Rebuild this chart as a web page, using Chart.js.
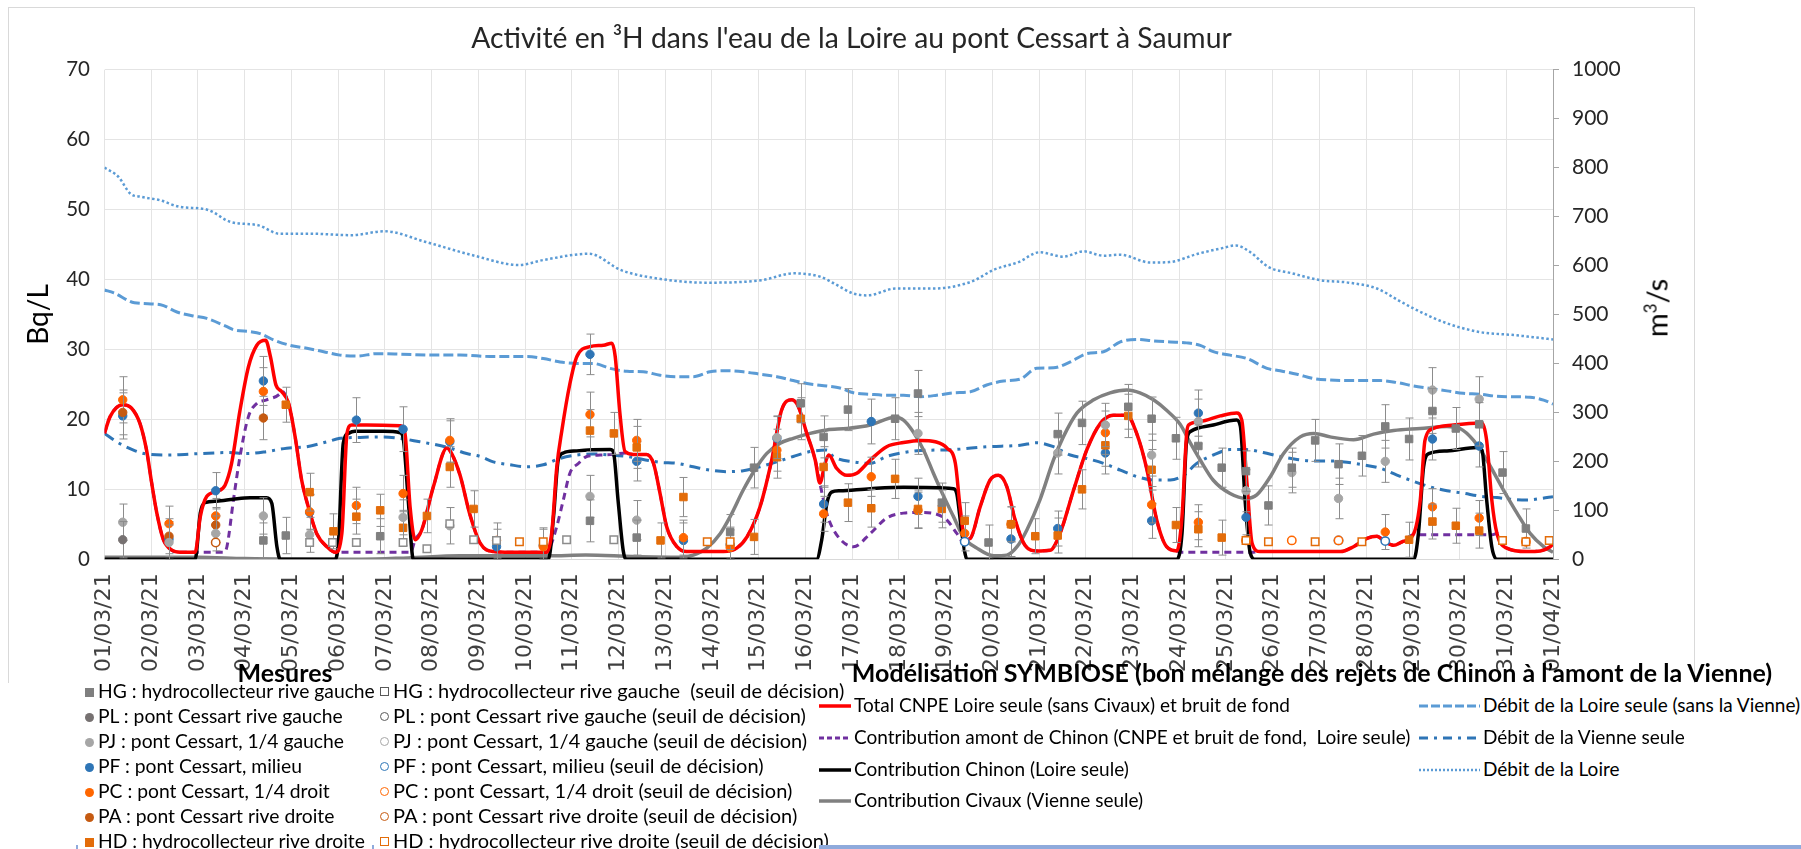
<!DOCTYPE html>
<html lang="fr">
<head>
<meta charset="UTF-8" />
<title>Activité en 3H - Loire au pont Cessart</title>
<script src="https://cdn.jsdelivr.net/npm/chart.js"></script>
<style>
  html, body { margin: 0; padding: 0; background: #fff; }
  body {
    width: 1801px; height: 849px; position: relative; overflow: hidden;
    font-family: Lato, "Open Sans", sans-serif;
    color: #000;
  }
  .frame {
    position: absolute; left: 8px; top: 7px; width: 1687px; height: 676px;
    border: 1px solid #d9d9d9; border-bottom: none; box-sizing: border-box;
  }
  #wrap { position: absolute; left: 8px; top: 7px; width: 1687px; height: 676px; }
  .ytitle-right {
    position: absolute; left: 1656px; top: 308px; font-size: 29px; color: #000;
    transform: translate(-50%, -50%) rotate(-90deg); white-space: nowrap;
  }
  .ytitle-right sup { font-size: 17px; }
  .leg-title { position: absolute; font-weight: bold; font-size: 25px; white-space: nowrap; transform: translate(-50%, -50%); }
  .row { position: absolute; height: 25px; line-height: 25px; font-size: 19px; white-space: nowrap; }
  .mes1 .row { font-size: 19.3px; }
  .mes2 .row { font-size: 20px; }
  .mk { display: inline-block; width: 9px; height: 9px; box-sizing: border-box; vertical-align: middle; margin-right: 4px; position: relative; top: -1px; }
  .ci { border-radius: 50%; }
  .row svg { vertical-align: middle; margin-right: 3px; position: relative; top: -1px; }
  .bluebar { position: absolute; left: 819px; top: 845px; width: 982px; height: 4px; background: #8faadc; }
  .bluetick { position: absolute; top: 845px; width: 2px; height: 4px; background: #8faadc; }
</style>
</head>
<body>
<div class="frame"></div>
<div id="wrap"><canvas id="tritium"></canvas></div>
<div class="ytitle-right">m<sup>3</sup>/s</div>

<!-- Mesures -->
<div class="leg-title" style="left:285px; top:672px;">Mesures</div>
<div class="mes1">
<div class="row" style="left:85px; top:678px;"><span class="mk" style="background:#7f7f7f"></span>HG : hydrocollecteur rive gauche</div>
<div class="row" style="left:85px; top:703px;"><span class="mk ci" style="background:#767171"></span>PL : pont Cessart rive gauche</div>
<div class="row" style="left:85px; top:728px;"><span class="mk ci" style="background:#a6a6a6"></span>PJ : pont Cessart, 1/4 gauche</div>
<div class="row" style="left:85px; top:753px;"><span class="mk ci" style="background:#2e75b6"></span>PF : pont Cessart, milieu</div>
<div class="row" style="left:85px; top:778px;"><span class="mk ci" style="background:#ff6600"></span>PC : pont Cessart, 1/4 droit</div>
<div class="row" style="left:85px; top:803px;"><span class="mk ci" style="background:#c55a11"></span>PA : pont Cessart rive droite</div>
<div class="row" style="left:85px; top:828px;"><span class="mk" style="background:#e36c09"></span>HD : hydrocollecteur rive droite</div>
</div>
<div class="mes2">
<div class="row" style="left:380px; top:678px;"><span class="mk" style="border:1.5px solid #595959"></span>HG : hydrocollecteur rive gauche&nbsp; (seuil de décision)</div>
<div class="row" style="left:380px; top:703px;"><span class="mk ci" style="border:1.5px solid #595959"></span>PL : pont Cessart rive gauche (seuil de décision)</div>
<div class="row" style="left:380px; top:728px;"><span class="mk ci" style="border:1.5px solid #a6a6a6"></span>PJ : pont Cessart, 1/4 gauche (seuil de décision)</div>
<div class="row" style="left:380px; top:753px;"><span class="mk ci" style="border:1.5px solid #2e75b6"></span>PF : pont Cessart, milieu (seuil de décision)</div>
<div class="row" style="left:380px; top:778px;"><span class="mk ci" style="border:1.5px solid #ff6600"></span>PC : pont Cessart, 1/4 droit (seuil de décision)</div>
<div class="row" style="left:380px; top:803px;"><span class="mk ci" style="border:1.5px solid #c55a11"></span>PA : pont Cessart rive droite (seuil de décision)</div>
<div class="row" style="left:380px; top:828px;"><span class="mk" style="border:1.5px solid #e36c09"></span>HD : hydrocollecteur rive droite (seuil de décision)</div>
</div>
<div class="bluetick" style="left:76px;"></div>
<div class="bluetick" style="left:372px;"></div>

<!-- Modelisation -->
<div class="leg-title" style="left:1312px; top:672px;">Modélisation SYMBIOSE (bon mélange des rejets de Chinon à l’amont de la Vienne)</div>
<div class="row" style="left:819px; top:692px;"><svg width="32" height="6"><line x1="0" y1="3" x2="32" y2="3" stroke="#ff0000" stroke-width="3.5"/></svg>Total CNPE Loire seule (sans Civaux) et bruit de fond</div>
<div class="row" style="left:819px; top:724px;"><svg width="32" height="6"><line x1="0" y1="3" x2="32" y2="3" stroke="#7030a0" stroke-width="3" stroke-dasharray="5 3"/></svg>Contribution amont de Chinon (CNPE et bruit de fond,&nbsp; Loire seule)</div>
<div class="row" style="left:819px; top:756px;"><svg width="32" height="6"><line x1="0" y1="3" x2="32" y2="3" stroke="#000" stroke-width="3.5"/></svg>Contribution Chinon (Loire seule)</div>
<div class="row" style="left:819px; top:787px;"><svg width="32" height="6"><line x1="0" y1="3" x2="32" y2="3" stroke="#808080" stroke-width="3.5"/></svg>Contribution Civaux (Vienne seule)</div>
<div class="row" style="left:1419px; top:692px;"><svg width="61" height="6"><line x1="0" y1="3" x2="61" y2="3" stroke="#5b9bd5" stroke-width="3" stroke-dasharray="9 3"/></svg>Débit de la Loire seule (sans la Vienne)</div>
<div class="row" style="left:1419px; top:724px;"><svg width="61" height="6"><line x1="0" y1="3" x2="61" y2="3" stroke="#2e75b6" stroke-width="3" stroke-dasharray="9 6 3 6"/></svg>Débit de la Vienne seule</div>
<div class="row" style="left:1419px; top:756px;"><svg width="61" height="6"><line x1="0" y1="3" x2="61" y2="3" stroke="#5b9bd5" stroke-width="2.5" stroke-dasharray="2 2"/></svg>Débit de la Loire</div>
<div class="bluebar"></div>

<script>
  // x axis: day 0 = 01/03/21 ... day 31 = 01/04/21
  const dayLabels = [
    '01/03/21', '02/03/21', '03/03/21', '04/03/21', '05/03/21', '06/03/21', '07/03/21', '08/03/21',
    '09/03/21', '10/03/21', '11/03/21', '12/03/21', '13/03/21', '14/03/21', '15/03/21', '16/03/21',
    '17/03/21', '18/03/21', '19/03/21', '20/03/21', '21/03/21', '22/03/21', '23/03/21', '24/03/21',
    '25/03/21', '26/03/21', '27/03/21', '28/03/21', '29/03/21', '30/03/21', '31/03/21', '01/04/21'
  ];

  // --- SYMBIOSE model lines, Bq/L : [day, value]
  const totalLoire = [
    [0,18.0],[0.12,20.4],[0.39,22.1],[0.58,21.6],[0.76,19.4],[0.9,15.6],[1.01,10.9],[1.12,6.6],[1.26,2.8],[1.44,1.3],[1.62,1.0],[1.94,1.0],
    [2.05,6.1],[2.19,9.0],[2.4,9.7],[2.58,10.6],[2.72,13.7],[2.9,21.3],[3.08,27.5],[3.26,30.6],[3.45,31.3],[3.55,29.0],[3.67,24.9],[3.79,24.0],
    [3.94,22.3],[4.08,17.5],[4.22,11.3],[4.37,7.3],[4.54,3.7],[4.76,1.8],[4.94,1.0],[5.08,3.7],[5.19,18.0],[5.29,19.2],[5.61,19.2],[6.33,19.1],
    [6.43,18.0],[6.54,7.5],[6.65,2.8],[6.79,4.2],[7.04,10.4],[7.33,15.9],[7.43,15.1],[7.61,12.0],[7.82,6.4],[8.04,2.3],[8.32,1.1],[8.68,1.0],
    [9.46,1.0],[9.57,3.7],[9.68,13.2],[9.79,18.5],[9.96,25.1],[10.11,29.0],[10.39,30.4],[10.68,30.6],[10.86,30.9],[10.93,29.0],[11.03,20.9],
    [11.14,15.4],[11.32,15.0],[11.6,15.0],[11.75,13.7],[11.89,9.4],[12.03,4.7],[12.25,1.8],[12.46,1.1],[13.25,1.1],[13.53,1.6],[13.75,3.2],
    [14.03,7.5],[14.28,14.2],[14.49,21.3],[14.71,22.8],[14.85,21.8],[15.03,18.0],[15.21,14.2],[15.31,10.9],[15.42,13.7],[15.5,14.9],[15.67,13.0],
    [15.89,12.0],[16.1,12.3],[16.39,14.2],[16.74,16.1],[17.1,16.7],[17.46,17.0],[17.78,16.8],[18.03,15.9],[18.21,13.7],[18.31,7.5],[18.42,2.8],
    [18.53,3.0],[18.74,7.5],[18.95,11.3],[19.13,12.0],[19.31,10.4],[19.49,5.6],[19.7,2.0],[19.95,1.2],[20.24,1.3],[20.45,3.7],[20.74,9.9],
    [21.02,15.6],[21.31,19.4],[21.59,20.6],[21.88,20.6],[22.09,18.0],[22.31,12.8],[22.52,5.6],[22.73,1.8],[22.95,1.2],[23.06,6.1],[23.16,18.0],
    [23.2,19.2],[23.45,19.7],[23.88,20.5],[24.23,20.9],[24.34,19.9],[24.45,10.9],[24.56,2.3],[24.73,1.1],[26.45,1.1],[26.73,1.8],[27.02,3.0],
    [27.23,3.3],[27.41,2.5],[27.59,2.0],[27.77,2.5],[28.02,3.7],[28.16,8.5],[28.26,17.0],[28.44,18.7],[28.87,19.2],[29.48,19.5],[29.58,17.0],
    [29.69,8.5],[29.8,3.7],[30.01,1.6],[30.44,1.1],[30.73,1.2],[30.94,1.8],[31.0,2.2]
  ];
  const amontChinon = [
    [0,18.0],[0.12,20.4],[0.39,22.1],[0.58,21.6],[0.76,19.4],[0.9,15.6],[1.01,10.9],[1.12,6.6],[1.26,2.8],[1.44,1.3],[1.62,1.0],[1.94,1.0],
    [2.55,1.0],[2.62,1.8],[2.76,8.5],[2.9,14.7],[3.08,20.4],[3.26,22.3],[3.47,22.8],[3.76,23.7],[3.79,24.0],[3.94,22.3],[4.08,17.5],[4.22,11.3],
    [4.37,7.3],[4.54,3.7],[4.76,1.8],[4.94,1.0],[6.55,1.0],[6.65,2.8],[6.79,4.2],[7.04,10.4],[7.33,15.9],[7.43,15.1],[7.61,12.0],[7.82,6.4],
    [8.04,2.3],[8.32,1.1],[8.68,1.0],[9.46,1.0],[9.54,1.8],[9.68,4.7],[9.82,8.5],[9.96,12.3],[10.14,13.7],[10.32,14.7],[10.61,14.9],[10.89,15.0],
    [11.14,15.2],[11.32,15.0],[11.6,15.0],[11.75,13.7],[11.89,9.4],[12.03,4.7],[12.25,1.8],[12.46,1.1],[13.25,1.1],[13.53,1.6],[13.75,3.2],
    [14.03,7.5],[14.28,14.2],[14.49,21.3],[14.71,22.8],[14.85,21.8],[15.03,18.0],[15.21,14.2],[15.31,10.9],[15.46,6.5],[15.67,3.5],[16.03,1.8],
    [16.39,3.7],[16.74,5.9],[17.1,6.6],[17.46,6.7],[17.78,6.5],[18.03,5.6],[18.24,3.7],[18.38,2.5],[18.42,2.8],[18.53,3.0],[18.74,7.5],
    [18.95,11.3],[19.13,12.0],[19.31,10.4],[19.49,5.6],[19.7,2.0],[19.95,1.2],[20.24,1.3],[20.45,3.7],[20.74,9.9],[21.02,15.6],[21.31,19.4],
    [21.59,20.6],[21.88,20.6],[22.09,18.0],[22.31,12.8],[22.52,5.6],[22.73,1.8],[22.95,1.2],[23.02,1.0],[24.56,1.0],[24.73,1.1],[26.45,1.1],
    [26.73,1.8],[27.02,3.0],[27.23,3.3],[27.41,2.5],[27.59,2.0],[27.77,2.5],[28.02,3.5],[29.7,3.5],[29.8,3.7],[30.01,1.6],[30.44,1.1],
    [30.73,1.2],[30.94,1.8],[31.0,2.2]
  ];
  const chinon = [
    [0,0],[1.94,0],[2.05,6.6],[2.15,8.1],[2.4,8.3],[2.76,8.6],[3.12,8.8],[3.47,8.8],[3.58,8.0],[3.69,1.8],[3.76,0],[4.94,0],[5.01,2.8],
    [5.11,16.6],[5.22,18.0],[5.36,18.3],[5.97,18.3],[6.33,18.1],[6.4,17.0],[6.5,8.5],[6.61,0],[9.5,0],[9.61,6.1],[9.71,14.2],[9.82,15.2],
    [10.11,15.5],[10.82,15.7],[10.89,15.4],[10.99,8.5],[11.1,1.3],[11.16,0],[15.24,0],[15.35,2.8],[15.46,8.0],[15.56,9.6],[15.74,9.8],
    [16.39,10.1],[17.1,10.3],[18.17,10.1],[18.24,9.4],[18.35,3.7],[18.46,0],[22.95,0],[23.06,3.7],[23.16,17.0],[23.25,18.3],[23.73,19.2],
    [24.23,19.9],[24.31,19.0],[24.41,8.5],[24.52,0.9],[24.63,0],[28.02,0],[28.12,3.7],[28.23,13.2],[28.34,15.1],[28.73,15.5],[29.37,16.0],
    [29.48,15.6],[29.58,8.5],[29.69,1.8],[29.8,0],[31,0]
  ];
  const civaux = [
    [0,0.3],[2.0,0.3],[3.0,0.1],[5.5,0.0],[6.5,0.2],[7.6,0.5],[9.5,0.5],[10.3,0.6],[11.3,0.4],[12.3,0.3],[12.6,0.6],[12.89,1.6],[13.18,3.7],
    [13.39,6.1],[13.67,9.9],[13.92,12.8],[14.17,15.1],[14.46,16.6],[14.74,17.3],[15.1,18.0],[15.46,18.5],[15.89,18.7],[16.39,19.2],[16.92,20.3],
    [17.1,19.9],[17.31,18.2],[17.53,15.6],[17.74,12.3],[17.96,9.0],[18.17,6.1],[18.38,3.2],[18.67,1.6],[19.03,0.5],[19.31,0.6],[19.53,1.8],
    [19.74,4.2],[20.02,8.5],[20.31,14.2],[20.52,17.5],[20.81,20.9],[21.17,22.8],[21.52,23.8],[21.88,24.2],[22.16,23.8],[22.45,22.8],[22.73,21.3],
    [23.02,19.3],[23.24,16.6],[23.45,14.2],[23.73,11.3],[24.09,9.4],[24.43,8.7],[24.66,9.2],[24.95,11.8],[25.23,15.1],[25.59,17.5],[25.88,18.0],
    [26.23,17.5],[26.73,17.1],[27.16,17.9],[27.59,18.4],[28.16,18.7],[28.73,19.0],[29.01,18.7],[29.3,17.0],[29.58,14.2],[29.94,9.9],[30.23,6.6],
    [30.51,3.7],[30.8,1.8],[31.0,1.0]
  ];

  // --- flows, m3/s : [day, value]
  const debitLoireSeule = [
    [0,550],[0.2,544],[0.64,524],[1.2,520],[1.55,505],[1.9,497],[2.19,492],[2.62,475],[2.76,469],[3.12,465],[3.33,461],[3.62,448],[3.97,437],
    [4.33,431],[4.69,424],[5.04,417],[5.4,415],[5.83,420],[6.33,419],[7.04,417],[7.61,417],[8.32,414],[9.04,414],[9.39,410],[9.75,403],
    [10.11,400],[10.46,400],[10.82,390],[11.18,384],[11.53,383],[11.89,376],[12.25,373],[12.6,373],[12.96,383],[13.32,385],[13.67,383],
    [14.03,378],[14.39,373],[14.74,365],[15.1,358],[15.46,354],[15.74,350],[16.03,340],[16.39,337],[16.74,335],[17.1,335],[17.46,332],
    [17.81,335],[18.17,340],[18.53,342],[18.88,356],[19.24,364],[19.6,368],[19.95,390],[20.31,391],[20.67,403],[21.02,420],[21.38,424],
    [21.74,444],[22.09,449],[22.45,446],[22.81,444],[23.16,442],[23.45,437],[23.73,424],[24.09,417],[24.45,410],[24.88,390],[25.16,385],
    [25.52,378],[25.88,369],[26.23,366],[26.59,365],[27.3,365],[27.66,361],[28.02,354],[28.37,349],[28.73,344],[29.08,339],[29.44,337],
    [29.8,333],[30.16,332],[30.51,331],[30.8,325],[31.0,317]
  ];
  const debitVienne = [
    [0,257],[0.26,240],[0.62,223],[0.9,215],[1.33,213],[2.05,216],[2.62,218],[3.05,216],[3.47,220],[3.9,227],[4.33,230],[4.76,240],[5.04,247],
    [5.47,249],[5.97,250],[6.33,247],[6.75,240],[7.04,235],[7.4,227],[7.75,216],[8.04,210],[8.32,199],[8.68,193],[9.04,189],[9.39,193],
    [9.75,206],[10.11,213],[10.46,215],[10.82,213],[11.18,210],[11.53,204],[11.89,198],[12.25,196],[12.6,189],[12.96,182],[13.32,179],
    [13.67,181],[14.03,189],[14.39,199],[14.74,210],[15.1,220],[15.46,223],[15.6,210],[16.03,199],[16.39,196],[16.74,210],[17.1,218],
    [17.46,222],[18.17,224],[18.88,230],[19.6,233],[19.95,238],[20.31,230],[20.67,213],[21.02,206],[21.38,196],[21.74,182],[22.09,169],
    [22.45,162],[22.81,162],[23.1,172],[23.38,196],[23.73,213],[24.09,224],[24.45,224],[24.8,218],[25.16,210],[25.52,204],[25.88,201],
    [26.23,201],[26.59,198],[26.94,193],[27.3,186],[27.66,172],[28.02,159],[28.37,148],[28.73,140],[29.08,135],[29.44,129],[29.8,126],
    [30.16,122],[30.44,121],[30.73,124],[31.0,128]
  ];
  const debitLoire = [
    [0,800],[0.3,781],[0.55,747],[0.8,740],[1.2,733],[1.6,720],[2.2,714],[2.7,689],[3.3,682],[3.74,665],[4.39,665],[5.29,662],[5.99,670],
    [6.88,648],[7.88,621],[8.88,601],[9.38,611],[10.37,624],[11.07,590],[11.87,573],[12.86,565],[14.06,570],[14.75,584],[15.32,577],
    [15.62,563],[16.02,543],[16.33,539],[16.93,553],[17.74,553],[18.55,567],[19.05,592],[19.56,607],[20.01,627],[20.52,618],[20.95,629],
    [21.38,620],[21.73,622],[22.39,606],[22.79,607],[23.4,624],[23.9,635],[24.21,641],[24.51,628],[24.91,597],[25.42,584],[26.02,570],
    [26.63,565],[27.23,553],[27.69,529],[28.02,512],[28.73,482],[29.44,464],[30.16,458],[31.0,449]
  ];

  // --- measurements, Bq/L : [day, value, uncertainty]
  const mesHG = [
    [3.40,2.7,2.5],[3.88,3.4,2.6],[5.9,3.3,2.5],[10.39,5.5,3.0],[11.39,3.1,2.5],[13.39,3.9,2.5],[13.9,13.1,2.9],[14.9,22.3,2.8],[15.39,17.5,3.0],
    [15.91,21.4,3.0],[16.92,20.1,3.0],[17.41,23.7,3.3],[17.92,8.1,2.8],[18.92,2.4,2.5],[20.4,17.9,3.0],[20.92,19.5,3.1],[21.91,21.8,3.2],
    [22.41,20.1,3.1],[22.93,17.3,3.0],[23.41,16.2,3.0],[23.91,13.1,2.8],[24.43,12.6,2.9],[24.91,7.7,2.8],[25.41,13.1,2.8],[25.91,17.0,3.0],
    [26.41,13.6,2.9],[26.91,14.8,2.9],[27.41,19.0,3.1],[27.92,17.2,3.0],[28.42,21.2,3.2],[28.92,18.7,3.0],[29.42,19.3,3.1],[29.92,12.4,3.0],
    [30.42,4.4,2.8]
  ];
  const mesPL = [[0.39,2.8,2.6]];
  const mesPJ = [
    [0.39,5.3,2.6],[1.38,2.4,2.5],[2.38,3.7,2.5],[3.40,6.2,2.6],[4.39,3.5,2.5],[6.39,6.0,2.5],[7.39,4.8,2.6],[10.39,9.0,3.0],[11.39,5.6,2.8],
    [14.39,17.4,3.0],[17.41,18.0,3.0],[20.4,15.2,3.0],[21.42,19.2,3.1],[22.41,14.9,3.0],[23.41,19.7,3.2],[24.43,9.8,3.0],[25.41,12.4,2.9],
    [26.41,8.7,2.9],[27.41,14.0,3.0],[28.42,24.2,3.2],[29.42,22.9,3.2]
  ];
  const mesPF = [
    [0.39,20.5,3.3],[1.38,2.9,2.5],[2.38,9.8,2.6],[3.40,25.5,3.5],[4.39,6.7,2.5],[5.39,19.9,3.2],[6.39,18.6,3.2],[7.39,16.8,3.0],[8.39,1.8,2.5],
    [9.39,2.0,2.5],[10.39,29.3,2.9],[11.39,14.0,2.8],[12.39,2.7,2.5],[13.39,2.1,2.5],[14.39,17.3,3.2],[15.39,7.9,2.6],[16.41,19.7,3.2],
    [17.41,9.0,2.6],[19.4,2.9,2.5],[20.4,4.4,2.5],[21.42,15.2,3.0],[22.41,5.5,2.5],[23.41,20.9,3.3],[24.43,6.0,2.5],[28.42,17.2,3.0],
    [29.42,16.2,3.0]
  ];
  const mesPC = [
    [0.39,22.8,3.3],[1.38,5.1,2.5],[2.38,6.2,2.5],[3.40,24.0,3.4],[4.39,6.8,2.5],[5.39,7.7,2.6],[6.39,9.4,2.6],[7.39,17.0,3.1],[8.39,2.7,2.5],
    [9.39,1.8,2.5],[10.39,20.7,3.2],[11.39,17.0,3.0],[12.39,3.1,2.5],[13.39,1.7,2.5],[14.39,15.6,3.0],[15.39,6.5,2.5],[16.41,11.8,2.8],
    [17.41,7.0,2.6],[18.41,3.7,2.5],[19.4,5.0,2.5],[21.42,18.1,3.1],[22.41,7.8,2.6],[23.41,5.3,2.5],[27.41,3.9,2.5],[28.42,7.5,2.6],
    [29.42,5.9,2.5]
  ];
  const mesPA = [[0.39,21.0,3.2],[1.38,3.3,2.5],[2.38,4.9,2.5],[3.40,20.2,3.1]];
  const mesHD = [
    [3.88,22.1,2.5],[4.39,9.6,2.7],[4.9,4.0,2.5],[5.39,6.1,2.5],[5.9,7.0,2.3],[6.39,4.5,2.5],[6.9,6.2,2.4],[7.39,13.2,2.9],[7.9,7.2,2.6],
    [10.39,18.4,3.0],[10.9,18.0,3.0],[11.39,16.0,3.0],[11.9,2.7,2.5],[12.39,8.9,2.8],[13.9,3.2,2.5],[14.39,14.6,3.0],[14.9,20.1,3.0],
    [15.39,13.2,2.9],[15.91,8.1,2.7],[16.41,7.3,2.7],[16.92,11.5,2.8],[17.41,7.2,2.7],[17.92,7.2,2.7],[18.41,5.5,2.6],[19.4,5.0,2.5],
    [19.92,3.3,2.5],[20.4,3.4,2.5],[20.92,10.0,2.8],[21.42,16.3,3.0],[21.91,20.5,3.1],[22.41,12.8,2.9],[22.93,4.9,2.5],[23.41,4.3,2.5],
    [23.91,3.1,2.5],[27.92,2.8,2.5],[28.42,5.4,2.5],[28.92,4.8,2.5],[29.42,4.1,2.5]
  ];

  // --- decision thresholds (open symbols), Bq/L : [day, value]
  const seuilHG = [[4.39,2.4],[4.88,2.4],[5.39,2.4],[6.39,2.4],[6.9,1.5],[7.39,5.1],[7.9,2.8],[8.39,2.7],[9.89,2.8],[10.9,2.8]];
  const seuilHD = [[8.88,2.5],[9.39,2.5],[12.9,2.5],[13.39,2.5],[24.43,2.7],[24.91,2.5],[25.91,2.5],[26.91,2.5],[29.92,2.7],[30.42,2.5],[30.92,2.7]];
  const seuilPC = [[24.43,2.7],[25.41,2.7],[26.41,2.7],[30.42,2.5]];
  const seuilPF = [[18.41,2.5],[26.41,2.7],[27.41,2.6]];
  const seuilPA = [[2.38,2.4]];

  const FONT = 'Lato, "Open Sans", sans-serif';
  const xy = arr => arr.map(p => ({ x: p[0], y: p[1] }));

  function modelLine(label, arr, color, width, dash, order, axis) {
    return {
      label, data: xy(arr), yAxisID: axis || 'y', showLine: true,
      borderColor: color, backgroundColor: color, borderWidth: width, borderDash: dash || [],
      pointRadius: 0, pointHoverRadius: 0, cubicInterpolationMode: 'monotone', order
    };
  }
  function mesure(label, arr, color, style) {
    return {
      label, data: xy(arr), err: arr.map(p => p[2]), yAxisID: 'y', showLine: false,
      pointStyle: style, pointRadius: style === 'rect' ? 5.3 : 4.2,
      backgroundColor: color, borderColor: color, borderWidth: 1, order: 0
    };
  }
  function seuil(label, arr, color, style) {
    return {
      label, data: xy(arr), yAxisID: 'y', showLine: false,
      pointStyle: style, pointRadius: style === 'rect' ? 5.3 : 4.2,
      backgroundColor: '#fff', borderColor: color, borderWidth: 1.5, order: 0
    };
  }

  // vertical uncertainty bars, drawn just before each measurement series
  const errorBars = {
    id: 'errorBars',
    beforeDatasetDraw(chart, args) {
      const ds = chart.data.datasets[args.index];
      if (!ds.err) return;
      const { ctx } = chart;
      const xs = chart.scales.x, ys = chart.scales.y;
      ctx.save();
      ctx.strokeStyle = '#8c8c8c';
      ctx.lineWidth = 1;
      ds.data.forEach((p, i) => {
        const px = Math.round(xs.getPixelForValue(p.x)) + 0.5;
        const top = ys.getPixelForValue(p.y + ds.err[i]);
        const bot = ys.getPixelForValue(Math.max(0, p.y - ds.err[i]));
        ctx.beginPath();
        ctx.moveTo(px, top); ctx.lineTo(px, bot);
        ctx.moveTo(px - 4, top); ctx.lineTo(px + 4, top);
        ctx.moveTo(px - 4, bot); ctx.lineTo(px + 4, bot);
        ctx.stroke();
      });
      ctx.restore();
    }
  };

  new Chart(document.getElementById('tritium'), {
    type: 'scatter',
    data: {
      datasets: [
        seuil('HG seuil', seuilHG, '#8c8c8c', 'rect'),
        seuil('HD seuil', seuilHD, '#e36c09', 'rect'),
        seuil('PC seuil', seuilPC, '#ff6600', 'circle'),
        seuil('PF seuil', seuilPF, '#2e75b6', 'circle'),
        seuil('PA seuil', seuilPA, '#c55a11', 'circle'),
        mesure('HG', mesHG, '#7f7f7f', 'rect'),
        mesure('PL', mesPL, '#767171', 'circle'),
        mesure('PJ', mesPJ, '#a6a6a6', 'circle'),
        mesure('HD', mesHD, '#e36c09', 'rect'),
        mesure('PA', mesPA, '#c55a11', 'circle'),
        mesure('PC', mesPC, '#ff6600', 'circle'),
        mesure('PF', mesPF, '#2e75b6', 'circle'),
        modelLine('Total CNPE Loire seule', totalLoire, '#ff0000', 3.5, [], 1),
        modelLine('Contribution Chinon', chinon, '#000000', 3.5, [], 2),
        modelLine('Contribution amont de Chinon', amontChinon, '#7030a0', 3, [7, 5], 3),
        modelLine('Contribution Civaux', civaux, '#808080', 3.5, [], 4),
        modelLine('Débit de la Loire seule', debitLoireSeule, '#5b9bd5', 3, [10, 4], 5, 'y2'),
        modelLine('Débit de la Vienne seule', debitVienne, '#2e75b6', 3, [11, 6, 3, 6], 5, 'y2'),
        modelLine('Débit de la Loire', debitLoire, '#5b9bd5', 2.5, [2.5, 2.5], 5, 'y2')
      ]
    },
    options: {
      responsive: true,
      maintainAspectRatio: false,
      animation: false,
      layout: { padding: 0 },
      plugins: {
        legend: { display: false },
        tooltip: { enabled: false },
        title: {
          display: true,
          text: 'Activité en ³H dans l\'eau de la Loire au pont Cessart à Saumur',
          color: '#262626',
          font: { family: FONT, size: 28.3, weight: 'normal' },
          padding: { top: 15, bottom: 13.7 }
        }
      },
      scales: {
        x: {
          type: 'linear', min: 0, max: 31,
          grid: { color: '#e4e4e4', drawTicks: false },
          border: { color: '#d9d9d9' },
          ticks: {
            stepSize: 1, autoSkip: false, minRotation: 90, maxRotation: 90, padding: 14,
            color: '#404040', font: { family: 'DejaVu Sans', size: 22 },
            callback: v => dayLabels[v]
          },
          afterFit: s => { s.height = 123.7; }
        },
        y: {
          position: 'left', min: 0, max: 70,
          grid: { color: '#e4e4e4', drawTicks: false },
          border: { display: false },
          ticks: { stepSize: 10, padding: 14.5, color: '#262626', font: { family: FONT, size: 20.5 }, callback: v => String(v) },
          title: { display: true, text: 'Bq/L', color: '#000', font: { family: FONT, size: 28 }, padding: { top: 14 } },
          afterFit: s => { s.width = 96.5; }
        },
        y2: {
          position: 'right', min: 0, max: 1000,
          grid: { drawOnChartArea: false, color: '#a6a6a6', tickLength: 6 },
          border: { display: true, color: '#a6a6a6' },
          ticks: { stepSize: 100, padding: 13, color: '#262626', font: { family: FONT, size: 21 }, callback: v => String(v) },
          afterFit: s => { s.width = 142; }
        }
      }
    },
    plugins: [errorBars]
  });
</script>
</body>
</html>
